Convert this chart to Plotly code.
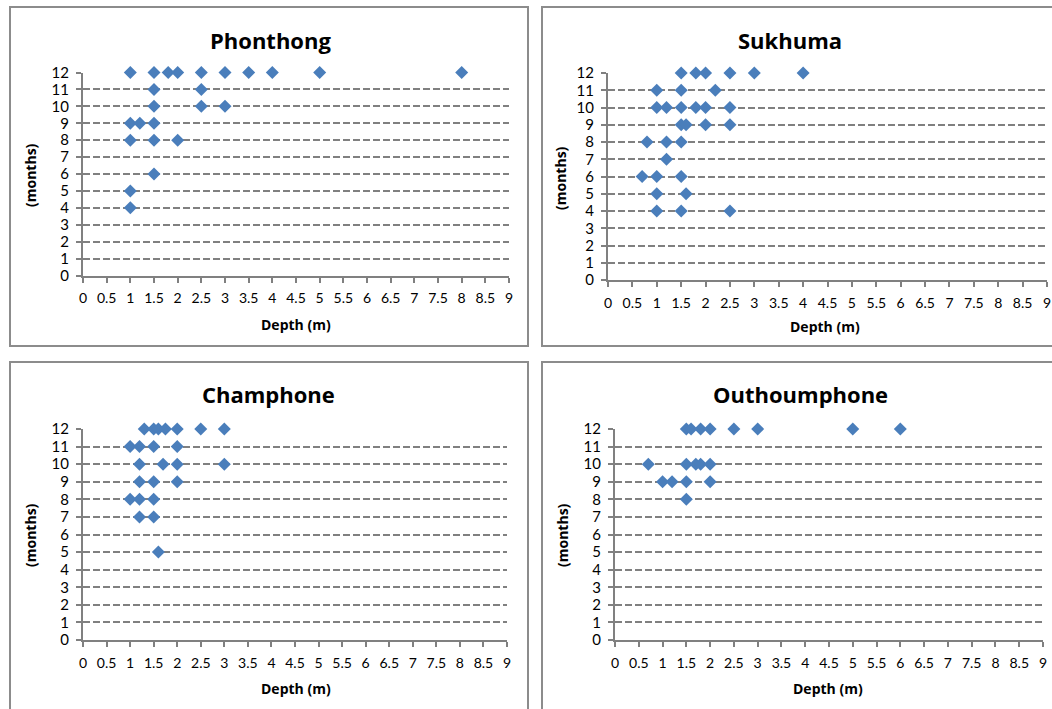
import plotly.graph_objects as go

# ---------------- data ----------------
panel_titles = ["Phonthong", "Sukhuma", "Champhone", "Outhoumphone"]

phonthong_depth = [1.0, 1.5, 1.8, 2.0, 2.5, 3.0, 3.5, 4.0, 5.0, 8.0,
                   1.5, 2.5,
                   1.5, 2.5, 3.0,
                   1.0, 1.2, 1.5,
                   1.0, 1.5, 2.0,
                   1.5,
                   1.0,
                   1.0]
phonthong_month = [12, 12, 12, 12, 12, 12, 12, 12, 12, 12,
                   11, 11,
                   10, 10, 10,
                   9, 9, 9,
                   8, 8, 8,
                   6,
                   5,
                   4]

sukhuma_depth = [1.5, 1.8, 2.0, 2.5, 3.0, 4.0,
                 1.0, 1.5, 2.2,
                 1.0, 1.2, 1.5, 1.8, 2.0, 2.5,
                 1.5, 1.6, 2.0, 2.5,
                 0.8, 1.2, 1.5,
                 1.2,
                 0.7, 1.0, 1.5,
                 1.0, 1.6,
                 1.0, 1.5, 2.5]
sukhuma_month = [12, 12, 12, 12, 12, 12,
                 11, 11, 11,
                 10, 10, 10, 10, 10, 10,
                 9, 9, 9, 9,
                 8, 8, 8,
                 7,
                 6, 6, 6,
                 5, 5,
                 4, 4, 4]

champhone_depth = [1.3, 1.5, 1.6, 1.75, 2.0, 2.5, 3.0,
                   1.0, 1.2, 1.5, 2.0,
                   1.2, 1.7, 2.0, 3.0,
                   1.2, 1.5, 2.0,
                   1.0, 1.2, 1.5,
                   1.2, 1.5,
                   1.6]
champhone_month = [12, 12, 12, 12, 12, 12, 12,
                   11, 11, 11, 11,
                   10, 10, 10, 10,
                   9, 9, 9,
                   8, 8, 8,
                   7, 7,
                   5]

outhoumphone_depth = [1.5, 1.6, 1.8, 2.0, 2.5, 3.0, 5.0, 6.0,
                      0.7, 1.5, 1.7, 1.8, 2.0,
                      1.0, 1.2, 1.5, 2.0,
                      1.5]
outhoumphone_month = [12, 12, 12, 12, 12, 12, 12, 12,
                      10, 10, 10, 10, 10,
                      9, 9, 9, 9,
                      8]

x_tick_vals = [0, 0.5, 1, 1.5, 2, 2.5, 3, 3.5, 4, 4.5, 5, 5.5, 6, 6.5, 7, 7.5, 8, 8.5, 9]
x_tick_text = ["0", "0.5", "1", "1.5", "2", "2.5", "3", "3.5", "4", "4.5",
               "5", "5.5", "6", "6.5", "7", "7.5", "8", "8.5", "9"]
y_tick_vals = list(range(0, 13))
x_axis_title = "Depth (m)"
y_axis_title = "(months)"

series = [(phonthong_depth, phonthong_month),
          (sukhuma_depth, sukhuma_month),
          (champhone_depth, champhone_month),
          (outhoumphone_depth, outhoumphone_month)]

# ---------------- layout helpers ----------------
W, H = 1052, 709
def px_x(v):
    return v / W
def px_y(v):
    return 1 - v / H

# plot area rectangles in pixels: (x0, x1, ytop, ybottom)
plot_rects = [(83, 509, 72.5, 275.5),
              (608, 1047, 73, 280),
              (83, 507, 429, 640),
              (615, 1043, 429, 640)]
# panel boxes (x0, y0, x1, y1)
boxes = [(10, 7, 528, 346),
         (542, 7, 1065, 346),
         (10, 362, 528, 720),
         (542, 362, 1065, 720)]
title_pos = [(270, 40), (790, 40), (268, 394), (800, 394)]
xtitle_pos = [(296, 325), (825, 327), (296, 688), (828, 688)]
ytitle_pos = [(30, 175), (560, 178), (30, 535), (562, 535)]

FONT = "Lato, 'Open Sans', 'DejaVu Sans', sans-serif"
TFONT = "'Open Sans', Lato, 'DejaVu Sans', sans-serif"
GRAY = "#808080"
BLUE = "#4a7ebb"

fig = go.Figure()
layout = dict(
    width=W, height=H,
    margin=dict(l=0, r=0, t=0, b=0, pad=0, autoexpand=False),
    paper_bgcolor="white", plot_bgcolor="white",
    showlegend=False,
    font=dict(family=FONT, color="#000000"),
    shapes=[], annotations=[],
)

for i, ((xd, yd), rect) in enumerate(zip(series, plot_rects)):
    n = "" if i == 0 else str(i + 1)
    xa, ya = "xaxis" + n, "yaxis" + n
    fig.add_trace(go.Scatter(
        x=xd, y=yd, mode="markers",
        xaxis="x" + n, yaxis="y" + n,
        marker=dict(symbol="diamond", size=10, color=BLUE,
                    line=dict(width=0)),
        cliponaxis=False,
    ))
    x0, x1, yt, yb = rect
    layout[xa] = dict(
        domain=[px_x(x0), px_x(x1)], anchor="y" + n,
        range=[0, 9], tickmode="array", tickvals=x_tick_vals,
        ticktext=x_tick_text, tickangle=0, automargin=False,
        showgrid=False, zeroline=False,
        showline=True, linecolor=GRAY, linewidth=2,
        ticks="outside", ticklen=5, tickwidth=1.5, tickcolor=GRAY,
        tickfont=dict(size=14, family=FONT, color="#000000"),
        ticklabelstandoff=4,
        fixedrange=True,
    )
    layout[ya] = dict(
        domain=[px_y(yb), px_y(yt)], anchor="x" + n,
        range=[0, 12], tickmode="array", tickvals=y_tick_vals,
        automargin=False,
        showgrid=True, gridcolor=GRAY, gridwidth=2, griddash="7px,3px",
        zeroline=False,
        showline=True, linecolor=GRAY, linewidth=2,
        ticks="outside", ticklen=5, tickwidth=1.5, tickcolor=GRAY,
        tickfont=dict(size=15, family=FONT, color="#000000"),
        ticklabelstandoff=4,
        fixedrange=True,
    )
    bx0, by0, bx1, by1 = boxes[i]
    layout["shapes"].append(dict(
        type="rect", xref="paper", yref="paper",
        x0=px_x(bx0), x1=px_x(bx1), y0=px_y(by1), y1=px_y(by0),
        line=dict(color="#8c8c8c", width=2), fillcolor="rgba(0,0,0,0)",
        layer="below",
    ))
    tx, ty = title_pos[i]
    layout["annotations"].append(dict(
        text="<b>%s</b>" % panel_titles[i], xref="paper", yref="paper",
        x=px_x(tx), y=px_y(ty), xanchor="center", yanchor="middle",
        showarrow=False, font=dict(size=22, family=TFONT, color="#000000"),
    ))
    ax, ay = xtitle_pos[i]
    layout["annotations"].append(dict(
        text="<b>%s</b>" % x_axis_title, xref="paper", yref="paper",
        x=px_x(ax), y=px_y(ay), xanchor="center", yanchor="middle",
        showarrow=False, font=dict(size=14, family=TFONT, color="#000000"),
    ))
    yx, yy = ytitle_pos[i]
    layout["annotations"].append(dict(
        text="<b>%s</b>" % y_axis_title, xref="paper", yref="paper",
        x=px_x(yx), y=px_y(yy), xanchor="center", yanchor="middle",
        textangle=-90,
        showarrow=False, font=dict(size=14, family=TFONT, color="#000000"),
    ))

fig.update_layout(**layout)
fig.write_html("out.html")
